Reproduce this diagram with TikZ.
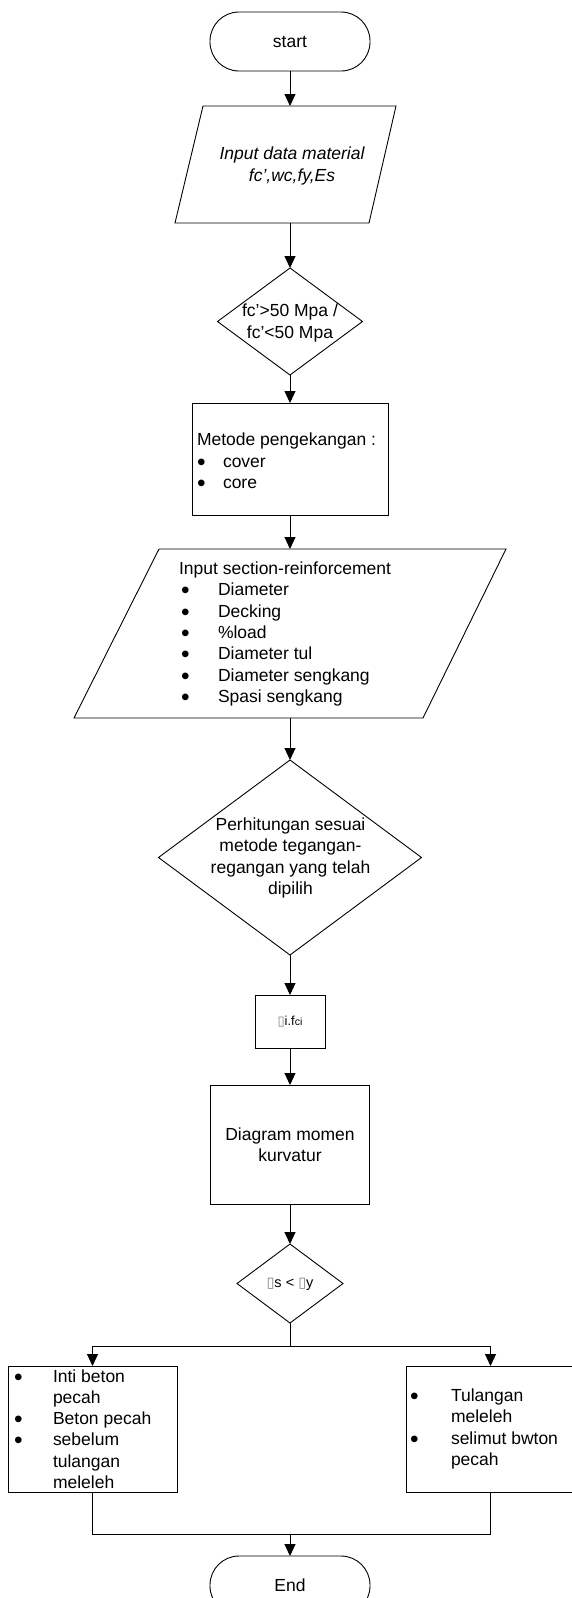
\documentclass[tikz,border=0pt]{standalone}
\usepackage{fontspec}
\usepackage{graphicx}
\setmainfont{Liberation Sans}
\newfontfamily\dvfont{DejaVu Sans}
\usetikzlibrary{shapes.geometric,arrows.meta}
\newcommand{\gbox}{{\dvfont\color{gray}▯}}
\newcommand{\bitem}[1]{\makebox[#1pt][l]{\raisebox{-3pt}[0pt][0pt]{\scalebox{1.4}{•}}}}
\begin{document}
\begin{tikzpicture}[x=1pt,y=-1pt,
  every node/.style={font=\fontsize{17.5}{21.3}\selectfont, outer sep=0pt},
  line/.style={line width=0.9pt},
  arr/.style={line width=0.9pt,-{Triangle[length=12pt,width=11pt]}},
  term/.style={draw,line width=0.9pt,rectangle,rounded corners=29pt,minimum width=160pt,minimum height=59pt},
  box/.style={draw,line width=0.9pt,rectangle,inner sep=0pt},
  dia/.style={draw,line width=0.9pt,diamond,inner sep=0pt},
  ghost/.style={rectangle,inner sep=0pt},
  txt/.style={align=left,inner sep=0pt},
  ctxt/.style={align=center,inner sep=0pt}]
\useasboundingbox (0,0) rectangle (572,1598);
\clip (0,0) rectangle (572,1598);

% start
\node[term] (start) at (290,41.5) {start};

% input data material
\node[ghost,minimum width=221pt,minimum height=117pt] (p1) at (290,164.5) {};
\draw[line] (203,106) -- (396,106) -- (369,223) -- (175,223) -- cycle;
\node[ctxt,font=\fontsize{17.5}{21.3}\selectfont\itshape] (p1t) at (292,166) {Input data material\\fc’,wc,fy,Es};

% decision fc'
\node[dia,minimum width=145pt,minimum height=107pt] (d1) at (290,321.5) {};
\node[ctxt] (d1t) at (290,323) {fc’>50 Mpa /\\fc’<50 Mpa};

% metode pengekangan
\node[box,minimum width=196pt,minimum height=112pt] (r1) at (290,459) {};
\node[txt,anchor=west] (r1t) at (197,461) {Metode pengekangan :\\\bitem{26}cover\\\bitem{26}core};

% input section-reinforcement
\node[ghost,minimum width=432pt,minimum height=169pt] (p2) at (290,633.5) {};
\draw[line] (159,549) -- (506,549) -- (423,718) -- (74,718) -- cycle;
\node[txt,anchor=west] (p2t) at (179,634) {Input section-reinforcement\\
\hspace*{2pt}\bitem{37}Diameter\\
\hspace*{2pt}\bitem{37}Decking\\
\hspace*{2pt}\bitem{37}\%load\\
\hspace*{2pt}\bitem{37}Diameter tul\\
\hspace*{2pt}\bitem{37}Diameter sengkang\\
\hspace*{2pt}\bitem{37}Spasi sengkang};

% perhitungan
\node[dia,minimum width=263pt,minimum height=195pt] (d2) at (290,857.5) {};
\node[ctxt] (d2t) at (290.5,858) {Perhitungan sesuai\\metode tegangan-\\regangan yang telah\\dipilih};

% small box
\node[box,minimum width=70pt,minimum height=53pt] (r2) at (290,1021.5) {\fontsize{13}{15}\selectfont\gbox i.f{\fontsize{10.5}{11}\selectfont ci}};

% diagram momen kurvatur
\node[box,minimum width=159pt,minimum height=119pt,align=center] (r3) at (290,1144.5) {Diagram momen\\kurvatur};

% decision es < ey
\node[dia,minimum width=106pt,minimum height=79pt] (d3) at (290,1283.5) {};
\node[ctxt,font=\fontsize{14.5}{16}\selectfont] (d3t) at (290,1284) {\gbox s < \gbox y};

% outcome boxes
\node[box,minimum width=169pt,minimum height=126pt] (bl) at (92.5,1429) {};
\node[txt,anchor=west] (blt) at (14,1429) {\bitem{39}Inti beton\\\hspace*{39pt}pecah\\\bitem{39}Beton pecah\\\bitem{39}sebelum\\\hspace*{39pt}tulangan\\\hspace*{39pt}meleleh};

\node[box,minimum width=169pt,minimum height=126pt] (br) at (490.5,1429) {};
\node[txt,anchor=west] (brt) at (410,1429) {\bitem{41}Tulangan\\\hspace*{41pt}meleleh\\\bitem{41}selimut bwton\\\hspace*{41pt}pecah};

% end
\node[term] (end) at (290,1585.5) {End};

% connectors
\coordinate (split) at (290,1346);
\coordinate (join) at (290,1534);
\draw[arr] (start.south) -- (start.south |- p1.north);
\draw[arr] (p1.south) -- (d1.north);
\draw[arr] (d1.south) -- (r1.north);
\draw[arr] (r1.south) -- (p2.north);
\draw[arr] (p2.south) -- (d2.north);
\draw[arr] (d2.south) -- (r2.north);
\draw[arr] (r2.south) -- (r3.north);
\draw[arr] (r3.south) -- (d3.north);
\draw[line] (d3.south) -- (split);
\draw[arr] (split) -| (bl.north);
\draw[arr] (split) -| (br.north);
\draw[line] (bl.south) |- (join);
\draw[line] (br.south) |- (join);
\draw[arr] (join) -- (end.north);
\end{tikzpicture}
\end{document}
